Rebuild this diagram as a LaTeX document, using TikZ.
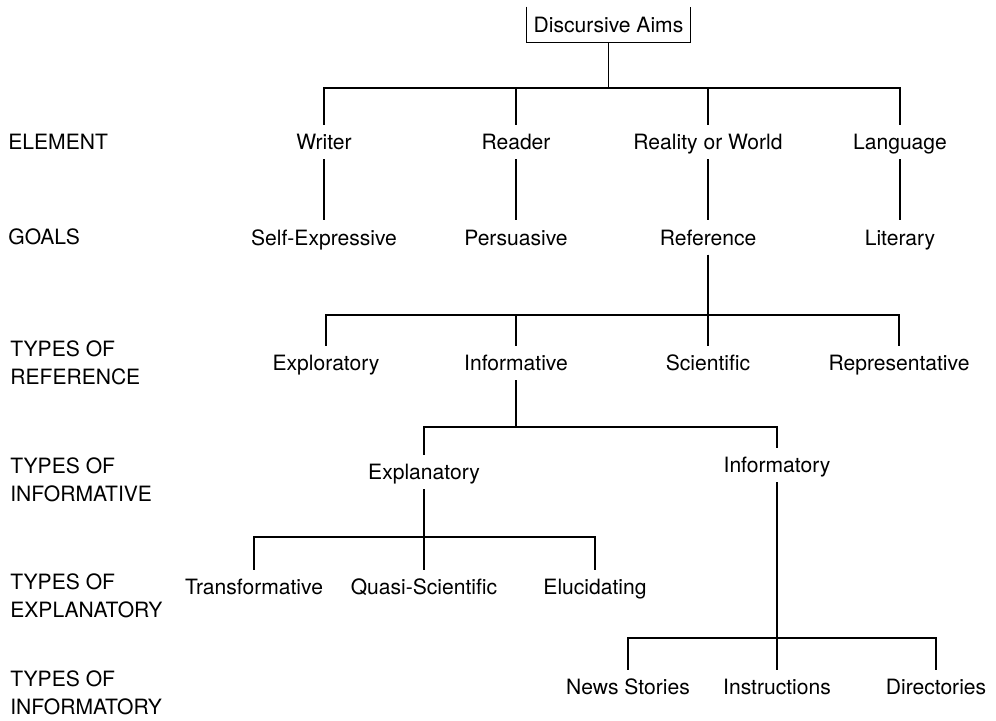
\documentclass[tikz,border=0pt]{standalone}
\usepackage{fontspec}
\setmainfont{TeX Gyre Heros}
\usetikzlibrary{positioning}
\tikzset{font={\fontsize{12pt}{16pt}\selectfont}}
\tikzset{
  aim/.style={inner sep=0pt, inner ysep=5.3pt, text height=8.6pt, text depth=0pt},
  aimsbox/.style={inner sep=0pt, minimum width=3.26cm, minimum height=0.7cm},
  lvl/.style={anchor=west, align=left, inner sep=0pt},
  branch/.style={line width=0.6pt},
}

\begin{document}
\begin{tikzpicture}[x=0.02cm, y=-0.02cm]
  \useasboundingbox (0,0) rectangle (996,720);

  % Define nodes
  \node[aimsbox] (aims) at (608.5,24.5) {Discursive Aims};

  \node[lvl] (lelement) at (8,142) {ELEMENT};
  \node[lvl] (lgoals) at (8,237) {GOALS};
  \node[lvl] (lreference) at (10,363) {TYPES OF\\REFERENCE};
  \node[lvl] (linformative) at (10,480) {TYPES OF\\INFORMATIVE};
  \node[lvl] (lexplanatory) at (10,596) {TYPES OF\\EXPLANATORY};
  \node[lvl] (linformatory) at (10,693) {TYPES OF\\INFORMATORY};

  \node[aim] (writer) at (324,142) {Writer};
  \node[aim] (reader) at (516,142) {Reader};
  \node[aim] (reality) at (708,142) {Reality or World};
  \node[aim] (language) at (900,142) {Language};

  \node[aim, below=1.223cm of writer] (selfexp) {Self-Expressive};
  \node[aim, below=1.223cm of reader] (persuasive) {Persuasive};
  \node[aim, below=1.223cm of reality] (reference) {Reference};
  \node[aim, below=1.223cm of language] (literary) {Literary};

  \node[aim] (exploratory) at (326,363) {Exploratory};
  \node[aim] (informative) at (516,363) {Informative};
  \node[aim] (scientific) at (708,363) {Scientific};
  \node[aim] (representative) at (899,363) {Representative};

  \node[aim] (explanatory) at (424,472) {Explanatory};
  \node[aim] (informatory) at (777,465) {Informatory};

  \node[aim] (transformative) at (254,587) {Transformative};
  \node[aim] (quasi) at (424,587) {Quasi-Scientific};
  \node[aim] (elucidating) at (595,587) {Elucidating};

  \node[aim] (news) at (628,687) {News Stories};
  \node[aim] (instructions) at (777,687) {Instructions};
  \node[aim] (directories) at (936,687) {Directories};

  % Bars of the tree
  \coordinate (bar0) at (0,88);
  \coordinate (bar1) at (0,315);
  \coordinate (bar2) at (0,427);
  \coordinate (bar3) at (0,537);
  \coordinate (bar4) at (0,638);

  % Connect the nodes
  \draw[branch] (aims.north west) |- (aims.south east) -- (aims.north east);
  \foreach \c in {writer,reader,reality,language}
    \draw[branch] (aims.south) -- (aims.south |- bar0) -| (\c.north);
  \draw[branch] (writer) -- (selfexp);
  \draw[branch] (reader) -- (persuasive);
  \draw[branch] (reality) -- (reference);
  \draw[branch] (language) -- (literary);
  \foreach \c in {exploratory,informative,scientific,representative}
    \draw[branch] (reference.south) -- (reference.south |- bar1) -| (\c.north);
  \foreach \c in {explanatory,informatory}
    \draw[branch] (informative.south) -- (informative.south |- bar2) -| (\c.north);
  \foreach \c in {transformative,quasi,elucidating}
    \draw[branch] (explanatory.south) -- (explanatory.south |- bar3) -| (\c.north);
  \foreach \c in {news,instructions,directories}
    \draw[branch] (informatory.south) -- (informatory.south |- bar4) -| (\c.north);
\end{tikzpicture}
\end{document}
